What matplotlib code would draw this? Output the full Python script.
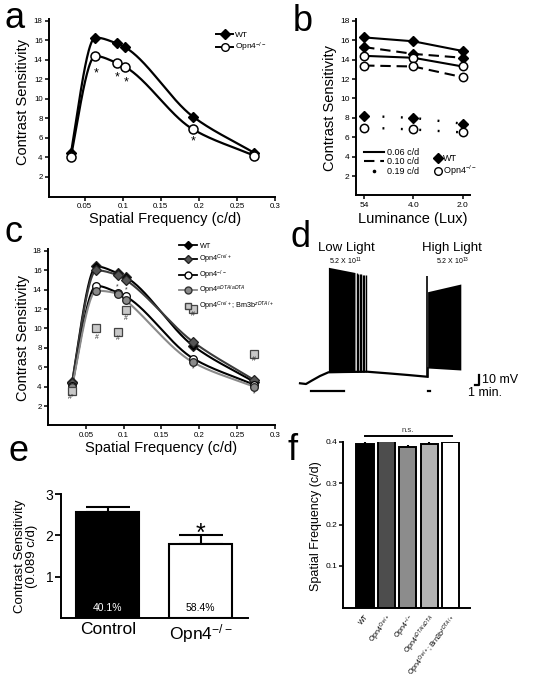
import numpy as np
import matplotlib
matplotlib.use('Agg')
import matplotlib.pyplot as plt
from matplotlib.lines import Line2D

plt.rcParams['font.family'] = ['Liberation Sans', 'DejaVu Sans']
plt.rcParams['mathtext.fontset'] = 'custom'
plt.rcParams['mathtext.rm'] = 'Liberation Sans'
plt.rcParams['mathtext.it'] = 'Liberation Sans:italic'
plt.rcParams['mathtext.bf'] = 'Liberation Sans:bold'
plt.rcParams['axes.linewidth'] = 1.4

# ---------------- data ----------------
sf = [0.032, 0.064, 0.092, 0.103, 0.192, 0.272]
a_wt = [4.5, 16.3, 15.7, 15.3, 8.2, 4.5]
a_ko = [4.1, 14.4, 13.7, 13.3, 6.9, 4.2]
a_star_x = [0.065, 0.092, 0.104, 0.192]
a_star_y = [12.3, 11.9, 11.4, 5.3]

lum_labels = ['54', '4.0', '2.0']
b_wt_006 = [16.3, 15.9, 14.9]
b_ko_006 = [14.4, 14.2, 13.3]
b_wt_010 = [15.3, 14.6, 14.2]
b_ko_010 = [13.4, 13.3, 12.2]
b_wt_019 = [8.2, 8.0, 7.4]
b_ko_019 = [7.0, 6.8, 6.5]

c_wt = [4.5, 16.4, 15.7, 15.3, 8.2, 4.5]
c_cre = [4.4, 16.0, 15.5, 15.0, 8.6, 4.7]
c_ko = [4.1, 14.4, 13.7, 13.3, 6.9, 4.2]
c_adta = [4.0, 13.9, 13.6, 12.9, 6.5, 4.0]
c_brn = [3.6, 10.0, 9.6, 11.9, 12.0, 7.4]
c_note_x = [0.031, 0.064, 0.092, 0.092, 0.103, 0.104, 0.192, 0.192, 0.272, 0.272]
c_note_y = [2.7, 8.9, 8.8, 14.1, 10.9, 13.8, 11.3, 5.7, 6.6, 3.1]
c_note_t = ['#*', '#', '#', '*', '#', '*', '#', '*', '#', '*']

# panel d trace (time in min, voltage in mV)
trace_t = [1.0, 2.5, 3.9, 6.0, 8.1, 12.0, 17.75, 23.5, 28.0, 32.7]
trace_v = [-68.3, -69.0, -65.7, -61.0, -57.3, -57.0, -56.7, -58.5, -60.0, -61.7]
low_block_t = [8.1, 14.75]
low_block_top = [47.7, 42.5]
low_block_bot = [-57.3, -57.0]
low_spike_t = [15.2, 15.6, 16.0, 16.25, 16.7, 17.0, 17.5]
low_spike_peak = [42.0, 41.5, 41.0, 41.0, 40.5, 40.0, 40.0]
high_onset_t = 32.8
high_onset_peak = 39.3
high_block_t = [32.9, 41.2]
high_block_top = [23.3, 31.0]
high_block_bot = [-53.0, -55.0]
low_stim = [3.7, 12.0]
high_stim = [32.9, 33.5]

e_groups = ['Control', 'Opn4$^{-/-}$']
e_vals = [2.56, 1.80]
e_err = [0.12, 0.20]
e_pct = ['40.1%', '58.4%']
e_colors = ['black', 'white']

f_groups = ['WT', 'Opn4$^{Cre/+}$', 'Opn4$^{-/-}$', 'Opn4$^{aDTA/aDTA}$',
            'Opn4$^{Cre/+}$; Brn3b$^{zDTA/+}$']
f_vals = [0.395, 0.403, 0.386, 0.393, 0.400]
f_err = [0.005, 0.007, 0.006, 0.008, 0.003]
f_colors = ['#000000', '#4d4d4d', '#8c8c8c', '#b3b3b3', '#ffffff']

# ---------------- helpers ----------------
W, H = 535, 683
fig = plt.figure(figsize=(W / 100, H / 100), dpi=100)
fig.patch.set_facecolor('white')


def ax_px(l, t, r, b):
    return fig.add_axes([l / W, 1 - b / H, (r - l) / W, (b - t) / H])


def smooth(x, y, n=300):
    x = np.asarray(x, float)
    y = np.asarray(y, float)
    h = np.diff(x)
    delta = np.diff(y) / h
    d = np.zeros_like(y)
    for k in range(1, len(x) - 1):
        if delta[k - 1] * delta[k] > 0:
            w1 = 2 * h[k] + h[k - 1]
            w2 = h[k] + 2 * h[k - 1]
            d[k] = (w1 + w2) / (w1 / delta[k - 1] + w2 / delta[k])
    d[0] = delta[0] * 1.3
    d[-1] = delta[-1]
    xs = np.linspace(x[0], x[-1], n)
    idx = np.clip(np.searchsorted(x, xs) - 1, 0, len(x) - 2)
    t = (xs - x[idx]) / h[idx]
    h00 = 2 * t**3 - 3 * t**2 + 1
    h10 = t**3 - 2 * t**2 + t
    h01 = -2 * t**3 + 3 * t**2
    h11 = t**3 - t**2
    ys = h00 * y[idx] + h10 * h[idx] * d[idx] + h01 * y[idx + 1] + h11 * h[idx] * d[idx + 1]
    return xs, ys


def style(ax, labelsize=5.7):
    for s in ['top', 'right']:
        ax.spines[s].set_visible(False)
    ax.tick_params(direction='out', length=3, width=1.1, labelsize=labelsize, pad=1.5)


def panel_label(x, y, s):
    fig.text(x / W, 1 - y / H, s, fontsize=26, va='baseline', ha='left')


# ---------------- panel a ----------------
ax = ax_px(49, 19, 275, 196.5)
style(ax)
xs, ys = smooth(sf, a_wt)
ax.plot(xs, ys, color='black', lw=1.6)
xs, ys = smooth(sf, a_ko)
ax.plot(xs, ys, color='black', lw=1.6)
ax.plot(sf, a_wt, ls='none', marker='D', ms=5.5, mfc='black', mec='black')
ax.plot(sf, a_ko, ls='none', marker='o', ms=6.5, mfc='white', mec='black', mew=1.1)
for x, y in zip(a_star_x, a_star_y):
    ax.text(x, y, '*', fontsize=9, ha='center', va='baseline')
ax.set_xlim(0.003, 0.3)
ax.set_ylim(0, 18.2)
ax.set_xticks([0.05, 0.1, 0.15, 0.2, 0.25, 0.3])
ax.set_xticklabels(['0.05', '0.1', '0.15', '0.2', '0.25', '0.3'])
ax.set_yticks([2, 4, 6, 8, 10, 12, 14, 16, 18])
ax.set_ylabel('Contrast Sensitivity', fontsize=10.5)
ax.set_xlabel('Spatial Frequency (c/d)', fontsize=10.5)
ax.yaxis.set_label_coords(-0.117, 0.535)
ax.xaxis.set_label_coords(0.513, -0.127)
ax.xaxis.label.set_va('center')
ax.yaxis.label.set_va('center')
h1 = Line2D([], [], color='black', lw=1.4, marker='D', ms=5, mfc='black', mec='black')
h2 = Line2D([], [], color='black', lw=1.4, marker='o', ms=5.5, mfc='white', mec='black')
ax.legend([h1, h2], ['WT', 'Opn4$^{-/-}$'], loc='upper left', bbox_to_anchor=(0.74, 0.93),
          frameon=False, fontsize=6, handlelength=2.0, handletextpad=0.3,
          labelspacing=0.2, borderaxespad=0, borderpad=0)
panel_label(4, 28, 'a')

# ---------------- panel b ----------------
ax = ax_px(355.7, 19, 470, 195.4)
style(ax, labelsize=6)
xb = np.arange(len(lum_labels))
dot = (0, (0.8, 7.0))
dash = (0, (5, 2.8))
ax.plot(xb, b_wt_006, color='black', lw=1.5, ls='-')
ax.plot(xb, b_ko_006, color='black', lw=1.5, ls='-')
ax.plot(xb, b_wt_010, color='black', lw=1.5, ls=dash)
ax.plot(xb, b_ko_010, color='black', lw=1.5, ls=dash)
ax.plot(xb, b_wt_019, color='black', lw=1.7, ls=dot)
ax.plot(xb, b_ko_019, color='black', lw=1.7, ls=dot)
for vals in [b_wt_006, b_wt_010, b_wt_019]:
    ax.plot(xb, vals, ls='none', marker='D', ms=5.5, mfc='black', mec='black', zorder=3)
for vals in [b_ko_006, b_ko_010, b_ko_019]:
    ax.plot(xb, vals, ls='none', marker='o', ms=6, mfc='white', mec='black', mew=1.1, zorder=3)
ax.set_xlim(-0.17, 2.15)
ax.set_ylim(0, 18.2)
ax.set_xticks(xb)
ax.set_xticklabels(lum_labels)
ax.set_yticks([2, 4, 6, 8, 10, 12, 14, 16, 18])
ax.set_ylabel('Contrast Sensitivity', fontsize=10.5)
ax.set_xlabel('Luminance (Lux)', fontsize=10.5)
ax.yaxis.set_label_coords(-0.225, 0.495)
ax.xaxis.set_label_coords(0.50, -0.134)
ax.xaxis.label.set_va('center')
ax.yaxis.label.set_va('center')
lh = [Line2D([], [], color='black', lw=1.5, ls='-'),
      Line2D([], [], color='black', lw=1.5, ls=dash),
      Line2D([], [], ls='none', marker='o', ms=1.6, mfc='black', mec='black')]
leg1 = ax.legend(lh, ['0.06 c/d', '0.10 c/d', '0.19 c/d'], loc='upper left',
                 bbox_to_anchor=(0.07, 0.27), frameon=False, fontsize=6.5,
                 handlelength=2.2, handletextpad=0.35, labelspacing=0.08,
                 borderaxespad=0, borderpad=0, numpoints=1)
ax.add_artist(leg1)
mh = [Line2D([], [], ls='none', marker='D', ms=5.5, mfc='black', mec='black'),
      Line2D([], [], ls='none', marker='o', ms=5.5, mfc='white', mec='black')]
ax.legend(mh, ['WT', 'Opn4$^{-/-}$'], loc='upper left', bbox_to_anchor=(0.69, 0.235),
          frameon=False, fontsize=6.5, handlelength=0.8, handletextpad=0.15,
          labelspacing=0.1, borderaxespad=0, borderpad=0)
panel_label(293, 31, 'b')

# ---------------- panel c ----------------
ax = ax_px(48, 249, 275, 425.4)
style(ax)
series = [(c_wt, 'black', 'D', 'black', 5.0),
          (c_cre, '#3c3c3c', 'D', '#555555', 5.0),
          (c_ko, 'black', 'o', 'white', 5.5),
          (c_adta, '#8a8a8a', 'o', '#8a8a8a', 5.5)]
for vals, lc, mk, fc, ms in series:
    xs, ys = smooth(sf, vals)
    ax.plot(xs, ys, color=lc, lw=1.5)
for vals, lc, mk, fc, ms in series:
    ax.plot(sf, vals, ls='none', marker=mk, ms=ms, mfc=fc,
            mec='#222222' if fc != 'white' else 'black', mew=0.9, zorder=3)
ax.plot(sf, c_brn, ls='none', marker='s', ms=6, mfc='#c8c8c8', mec='#444444', mew=0.9, zorder=3)
for x, y, t in zip(c_note_x, c_note_y, c_note_t):
    ax.text(x, y, t, fontsize=5, ha='center', va='baseline', color='#333333')
ax.set_xlim(0.0, 0.3)
ax.set_ylim(0, 18.2)
ax.set_xticks([0.05, 0.1, 0.15, 0.2, 0.25, 0.3])
ax.set_xticklabels(['0.05', '0.1', '0.15', '0.2', '0.25', '0.3'])
ax.set_yticks([2, 4, 6, 8, 10, 12, 14, 16, 18])
ax.set_ylabel('Contrast Sensitivity', fontsize=10.5)
ax.set_xlabel('Spatial Frequency (c/d)', fontsize=10.5)
ax.yaxis.set_label_coords(-0.112, 0.498)
ax.xaxis.set_label_coords(0.498, -0.128)
ax.xaxis.label.set_va('center')
ax.yaxis.label.set_va('center')
ch = [Line2D([], [], color='black', lw=1.3, marker='D', ms=4.5, mfc='black', mec='black'),
      Line2D([], [], color='black', lw=1.3, marker='D', ms=4.5, mfc='#555555', mec='#222222'),
      Line2D([], [], color='black', lw=1.3, marker='o', ms=5, mfc='white', mec='black'),
      Line2D([], [], color='#8a8a8a', lw=1.3, marker='o', ms=5, mfc='#8a8a8a', mec='#333333'),
      Line2D([], [], ls='none', marker='s', ms=5, mfc='#c8c8c8', mec='#444444')]
ax.legend(ch, ['WT', 'Opn4$^{Cre/+}$', 'Opn4$^{-/-}$', 'Opn4$^{aDTA/aDTA}$',
               'Opn4$^{Cre/+}$; Brn3b$^{zDTA/+}$'],
          loc='upper left', bbox_to_anchor=(0.575, 1.035), frameon=False, fontsize=5.2,
          handlelength=2.6, handletextpad=0.3, labelspacing=0.35, borderaxespad=0, borderpad=0)
panel_label(4, 242, 'c')

# ---------------- panel d ----------------
ax = ax_px(296, 240, 496, 400)
ax.set_xlim(0, 50)
ax.set_ylim(-85, 75)
ax.axis('off')
ax.plot(trace_t, trace_v, color='black', lw=1.6, solid_joinstyle='round')
ax.plot([high_block_t[0], high_block_t[0]], [trace_v[-1], high_block_bot[0]], color='black', lw=1.2)
ax.fill_between(low_block_t, low_block_bot, low_block_top, color='black', lw=0)
ax.vlines(low_spike_t, np.interp(low_spike_t, trace_t, trace_v), low_spike_peak,
          color='black', lw=1.0)
ax.vlines([high_onset_t], [trace_v[-1]], [high_onset_peak], color='black', lw=1.2)
ax.fill_between(high_block_t, high_block_bot, high_block_top, color='black', lw=0)
ax.plot(low_stim, [-75.7, -75.7], color='black', lw=1.6)
ax.plot(high_stim, [-75.7, -75.7], color='black', lw=1.6)
ax.plot([44.75, 45.75, 45.75], [-70, -70, -60], color='black', lw=1.6)
ax.text(45.6 + 1.0, -65, '10 mV', fontsize=9, ha='left', va='center')
ax.text(42.9, -78.5, '1 min.', fontsize=9, ha='left', va='center')
ax.text(12.7, 67, 'Low Light', fontsize=9.5, ha='center', va='center')
ax.text(12.5, 54, '5.2 X 10$^{11}$', fontsize=5, ha='center', va='center')
ax.text(38.9, 67, 'High Light', fontsize=9.5, ha='center', va='center')
ax.text(39.25, 54, '5.2 X 10$^{13}$', fontsize=5, ha='center', va='center')
panel_label(291, 247, 'd')

# ---------------- panel e ----------------
ax = ax_px(61, 494, 248, 618.3)
for s in ['top', 'right']:
    ax.spines[s].set_visible(False)
xe = np.arange(len(e_groups))
ax.bar(xe, e_vals, width=0.68, color=e_colors, edgecolor='black', lw=1.5, zorder=2)
ax.errorbar(xe, e_vals, yerr=[[0] * len(e_vals), e_err], fmt='none', ecolor='black',
            elinewidth=1.5, capsize=16, capthick=1.5, zorder=1)
for x, t, c in zip(xe, e_pct, ['white', 'black']):
    ax.text(x, 0.26, t, fontsize=7.5, ha='center', va='center', color=c)
ax.text(1, 1.86, '*', fontsize=18, ha='center', va='baseline')
ax.set_xlim(-0.503, 1.51)
ax.set_ylim(0, 3)
ax.set_xticks(xe)
ax.set_xticklabels(e_groups, fontsize=12.5)
ax.set_yticks([1, 2, 3])
ax.tick_params(axis='y', direction='out', length=4, width=1.3, labelsize=10, pad=1.5)
ax.tick_params(axis='x', length=0, pad=3)
ax.set_ylabel('Contrast Sensitivity\n(0.089 c/d)', fontsize=9.5, linespacing=1.1)
ax.yaxis.set_label_coords(-0.187, 0.496)
ax.yaxis.label.set_va('center')
panel_label(8, 461, 'e')

# ---------------- panel f ----------------
ax = ax_px(343.3, 441.5, 470, 607.5)
for s in ['top', 'right']:
    ax.spines[s].set_visible(False)
xf = np.arange(len(f_groups))
ax.errorbar(xf, f_vals, yerr=[[0] * len(f_vals), f_err], fmt='none', ecolor='black',
            elinewidth=1.5, capsize=0, zorder=1)
ax.bar(xf, f_vals, width=0.8, color=f_colors, edgecolor='black', lw=1.4, zorder=2)
ax.plot([0.0, 4.05], [0.413, 0.413], color='black', lw=1.4, clip_on=False)
ax.text(2.0, 0.417, 'n.s.', fontsize=5.5, ha='center', va='bottom', color='#333333')
ax.set_xlim(-1.01, 4.9)
ax.set_ylim(0, 0.4)
ax.set_yticks([0.1, 0.2, 0.3, 0.4])
ax.set_yticklabels(['0.1', '0.2', '0.3', '0.4'])
ax.tick_params(axis='y', direction='out', length=3, width=1.1, labelsize=6, pad=1.5)
ax.set_xticks(xf)
ax.set_xticklabels(f_groups, fontsize=5.0, rotation=52, ha='right', rotation_mode='anchor')
ax.tick_params(axis='x', length=0, pad=4)
ax.set_ylabel('Spatial Frequency (c/d)', fontsize=9)
ax.yaxis.set_label_coords(-0.215, 0.49)
ax.yaxis.label.set_va('center')
panel_label(288, 460, 'f')

fig.savefig('out.png', dpi=100, facecolor='white')
